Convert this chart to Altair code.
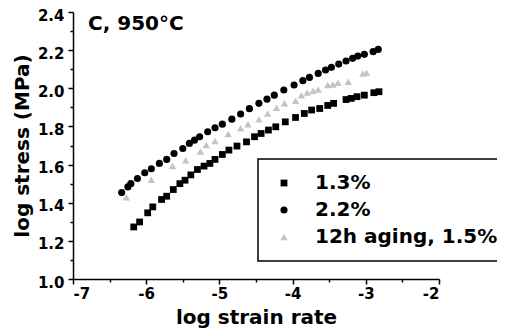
import altair as alt
import pandas as pd

# 1.3% series (squares)
x13 = [-6.17, -6.09, -5.98, -5.91, -5.79, -5.72, -5.63, -5.54, -5.47, -5.39,
       -5.30, -5.21, -5.13, -5.06, -4.96, -4.87, -4.76, -4.63, -4.52, -4.43,
       -4.33, -4.23, -4.10, -3.96, -3.84, -3.74, -3.63, -3.52, -3.44, -3.27,
       -3.20, -3.12, -3.02, -2.89, -2.82]
y13 = [1.273, 1.299, 1.347, 1.378, 1.417, 1.434, 1.469, 1.500, 1.518, 1.546,
       1.574, 1.592, 1.606, 1.627, 1.653, 1.676, 1.697, 1.719, 1.746, 1.763,
       1.781, 1.798, 1.824, 1.847, 1.868, 1.886, 1.894, 1.910, 1.921, 1.941,
       1.947, 1.956, 1.964, 1.977, 1.982]

# 2.2% series (circles)
x22 = [-6.335, -6.25, -6.21, -6.12, -6.02, -5.93, -5.82, -5.72, -5.62, -5.50,
       -5.41, -5.34, -5.27, -5.16, -5.06, -4.96, -4.83, -4.71, -4.59, -4.46,
       -4.35, -4.25, -4.12, -3.98, -3.86, -3.77, -3.65, -3.55, -3.47, -3.37,
       -3.27, -3.18, -3.11, -3.02, -2.90, -2.83]
y22 = [1.453, 1.483, 1.500, 1.527, 1.557, 1.578, 1.606, 1.627, 1.658, 1.684,
       1.711, 1.728, 1.746, 1.772, 1.793, 1.812, 1.838, 1.865, 1.893, 1.921,
       1.943, 1.964, 1.991, 2.017, 2.040, 2.057, 2.078, 2.096, 2.110, 2.127,
       2.143, 2.157, 2.169, 2.178, 2.192, 2.204]

# 12h aging, 1.5% series (light grey)
xag = [-6.27, -5.93, -5.64, -5.46, -5.26, -5.18, -5.06, -4.88, -4.71, -4.61,
       -4.46, -4.34, -4.22, -4.11, -3.96, -3.88, -3.80, -3.72, -3.65, -3.52,
       -3.45, -3.38, -3.24, -3.04, -2.99]
yag = [1.428, 1.521, 1.592, 1.623, 1.668, 1.702, 1.724, 1.760, 1.790, 1.812,
       1.837, 1.868, 1.898, 1.921, 1.934, 1.964, 1.978, 1.987, 1.994, 2.017,
       2.020, 2.029, 2.034, 2.078, 2.081]

series = ["1.3%", "2.2%", "12h aging, 1.5%"]
x_ticks = [-7, -6.5, -6, -5.5, -5, -4.5, -4, -3.5, -3, -2.5, -2]
y_ticks = [1.0, 1.1, 1.2, 1.3, 1.4, 1.5, 1.6, 1.7, 1.8, 1.9, 2.0, 2.1, 2.2, 2.3, 2.4]
panel_label = ["C, 950°C"]

rows = []
for xs, ys, s in [(x13, y13, series[0]), (x22, y22, series[1]), (xag, yag, series[2])]:
    for a, b in zip(xs, ys):
        rows.append({"rate": a, "stress": b, "series": s})
df = pd.DataFrame(rows)

FONT = "DejaVu Sans"
leg = alt.Legend(title=None)

points = alt.Chart(df).mark_point(filled=True, opacity=1, strokeWidth=0).encode(
    x=alt.X("rate:Q",
            scale=alt.Scale(domain=[-7, -2], nice=False, zero=False),
            axis=alt.Axis(title="log strain rate", values=x_ticks,
                          labelExpr="round(datum.value*2) % 2 == 0 ? datum.value + '' : ''",
                          tickSize={"condition": {"test": "round(datum.value*2) % 2 == 0", "value": 5}, "value": 3},
                          labelPadding=2, titlePadding=6)),
    y=alt.Y("stress:Q",
            scale=alt.Scale(domain=[1.0, 2.4], nice=False, zero=False),
            axis=alt.Axis(title="log stress (MPa)", values=y_ticks,
                          labelExpr="round(datum.value*10) % 2 == 0 ? format(datum.value, '.1f') : ''",
                          tickSize={"condition": {"test": "round(datum.value*10) % 2 == 0", "value": 5}, "value": 3},
                          labelPadding=4, labelOffset=3, titlePadding=5)),
    shape=alt.Shape("series:N", scale=alt.Scale(domain=series, range=["square", "circle", "triangle-up"]), legend=leg),
    color=alt.Color("series:N", scale=alt.Scale(domain=series, range=["#000000", "#000000", "#c4c4c4"]), legend=leg),
    size=alt.Size("series:N", scale=alt.Scale(domain=series, range=[46, 56, 16]), legend=leg),
)

label = alt.Chart(pd.DataFrame({"t": panel_label})).mark_text(
    align="left", baseline="alphabetic", font=FONT, fontSize=20, fontWeight="bold", color="black"
).encode(text="t:N", x=alt.value(15), y=alt.value(18))

chart = alt.layer(points, label).properties(
    width=366, height=267,
    autosize=alt.AutoSizeParams(type="none"),
    padding={"left": 65, "top": 4, "right": 58, "bottom": 50},
).configure_view(stroke=None).configure_axis(
    grid=False, domainColor="black", domainWidth=1.5, tickColor="black", tickWidth=1.5,
    labelFont=FONT, labelFontSize=15, labelFontWeight="bold", labelColor="black",
    titleFont=FONT, titleFontSize=20, titleFontWeight="bold", titleColor="black",
).configure_legend(
    orient="none", legendX=185, legendY=147, strokeColor="black", strokeWidth=1.5,
    padding=14, rowPadding=7, symbolOffset=2, labelOffset=21, labelLimit=400,
    labelFont=FONT, labelFontSize=20, labelFontWeight="bold", labelColor="black",
    fillColor="white",
)

chart.save("out.html", embed_options={"renderer": "svg", "actions": False})
